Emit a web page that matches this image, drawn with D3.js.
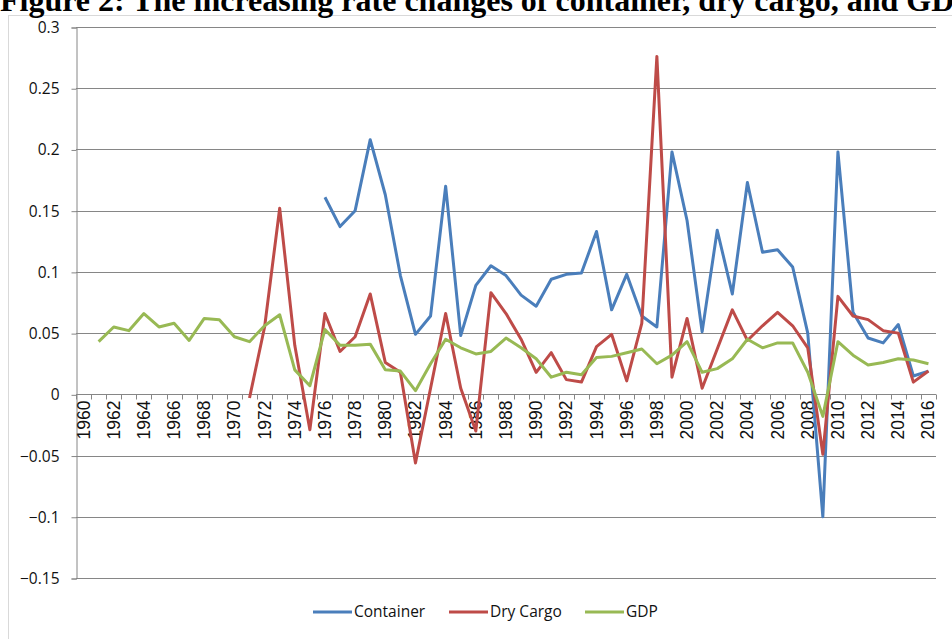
<!DOCTYPE html>
<html><head><meta charset="utf-8">
<script src="https://cdn.jsdelivr.net/npm/d3@7/dist/d3.min.js"></script>
<style>body{margin:0;background:#fff;} svg{display:block;}</style>
</head><body>
<svg id="c" width="952" height="639"></svg>
<script>
const years = d3.range(1960, 2017);
const yTicks = [0.3, 0.25, 0.2, 0.15, 0.1, 0.05, 0, -0.05, -0.1, -0.15];
const titleText = "Figure 2: The increasing rate changes of container, dry cargo, and GDP";
const seriesNames = ["Container", "Dry Cargo", "GDP"];
const colors = ["#4a7ebb", "#be4b48", "#98b954"];

const containerYears = d3.range(1976, 2017);
const containerVals = [0.161,0.137,0.150,0.208,0.163,0.097,0.049,0.064,0.170,0.048,
  0.089,0.105,0.097,0.081,0.072,0.094,0.098,0.099,0.133,0.069,
  0.098,0.064,0.055,0.198,0.142,0.051,0.134,0.082,0.173,0.116,
  0.118,0.104,0.050,-0.100,0.198,0.067,0.046,0.042,0.057,0.015,0.019];
const dryYears = d3.range(1971, 2017);
const dryVals = [-0.003,0.055,0.152,0.040,-0.029,0.066,0.035,0.047,0.082,0.026,
  0.018,-0.056,0.005,0.066,0.005,-0.030,0.083,0.066,0.045,0.018,
  0.034,0.012,0.010,0.039,0.049,0.011,0.058,0.276,0.014,0.062,
  0.005,0.037,0.069,0.044,0.056,0.067,0.056,0.038,-0.049,0.080,
  0.064,0.061,0.052,0.050,0.010,0.019];
const gdpYears = d3.range(1961, 2017);
const gdpVals = [0.043,0.055,0.052,0.066,0.055,0.058,0.044,0.062,0.061,0.047,
  0.043,0.056,0.065,0.020,0.007,0.053,0.040,0.040,0.041,0.020,
  0.019,0.003,0.025,0.045,0.038,0.033,0.035,0.046,0.038,0.029,
  0.014,0.018,0.016,0.030,0.031,0.034,0.037,0.025,0.032,0.043,
  0.018,0.021,0.029,0.045,0.038,0.042,0.042,0.018,-0.018,0.043,
  0.032,0.024,0.026,0.029,0.028,0.025];

const svg = d3.select("#c");
const L = 76, R = 936, T = 27, B = 578;

// frame
svg.append("rect").attr("x", 8.5).attr("y", 15.5).attr("width", 960).attr("height", 640)
  .attr("fill", "#fff").attr("stroke", "#d9d9d9");

// title (cut off at top, as in the reference)
svg.append("text").attr("x", 0).attr("y", 11)
  .attr("font-family", "Liberation Serif").attr("font-weight", "bold").attr("font-size", 32)
  .attr("fill", "#000").text(titleText);

const x = d3.scaleBand().domain(years).range([L, R]);
const y = d3.scaleLinear().domain([-0.15, 0.3]).range([B, T]);
const cx = d => x(d) + x.bandwidth() / 2;

// gridlines
svg.append("g").selectAll("line").data(yTicks).join("line")
  .attr("x1", L).attr("x2", R).attr("y1", d => Math.round(y(d)) + 0.5).attr("y2", d => Math.round(y(d)) + 0.5)
  .attr("stroke", "#868686").attr("stroke-width", 1);

// y axis
const yAxis = d3.axisLeft(y).tickValues(yTicks).tickSize(5).tickPadding(12)
  .tickFormat(d => d === 0 ? "0" : d3.format("")(+d.toFixed(2)));
const gy = svg.append("g").attr("transform", `translate(${L + 0.5},0.5)`).call(yAxis);
gy.select(".domain").attr("stroke", "#868686");
gy.selectAll(".tick line").attr("stroke", "#868686");
gy.selectAll(".tick text").attr("font-family", "Open Sans").attr("font-size", 15.5).attr("fill", "#111");

// x axis at zero
const gx = svg.append("g").attr("transform", `translate(0,${Math.round(y(0)) + 0.5})`);
gx.append("line").attr("x1", L).attr("x2", R).attr("stroke", "#868686");
gx.selectAll("line.tk").data(d3.range(years.length + 1)).join("line").attr("class", "tk")
  .attr("x1", i => Math.round(L + i * x.step()) + 0.5).attr("x2", i => Math.round(L + i * x.step()) + 0.5)
  .attr("y1", 0).attr("y2", 5).attr("stroke", "#868686");
gx.selectAll("text").data(years.filter(d => d % 2 === 0)).join("text")
  .attr("transform", d => `translate(${cx(d) + 6},6) rotate(-90)`)
  .attr("text-anchor", "end")
  .attr("font-family", "Liberation Sans").attr("font-size", 17.5).attr("fill", "#111")
  .text(d => d);

// lines
const line = d3.line().x(d => cx(d[0])).y(d => y(d[1]));
const series = [
  d3.zip(containerYears, containerVals),
  d3.zip(dryYears, dryVals),
  d3.zip(gdpYears, gdpVals)
];
series.forEach((s, i) => {
  svg.append("path").datum(s).attr("d", line).attr("fill", "none")
    .attr("stroke", colors[i]).attr("stroke-width", 3).attr("stroke-linejoin", "round");
});

// legend
const legX = [313, 449, 585];
const lg = svg.append("g");
seriesNames.forEach((n, i) => {
  lg.append("line").attr("x1", legX[i]).attr("x2", legX[i] + 39).attr("y1", 612).attr("y2", 612)
    .attr("stroke", colors[i]).attr("stroke-width", 3);
  lg.append("text").attr("x", legX[i] + 41).attr("y", 617)
    .attr("font-family", "Open Sans").attr("font-size", 15.5).attr("fill", "#111").text(n);
});
</script>
</body></html>
